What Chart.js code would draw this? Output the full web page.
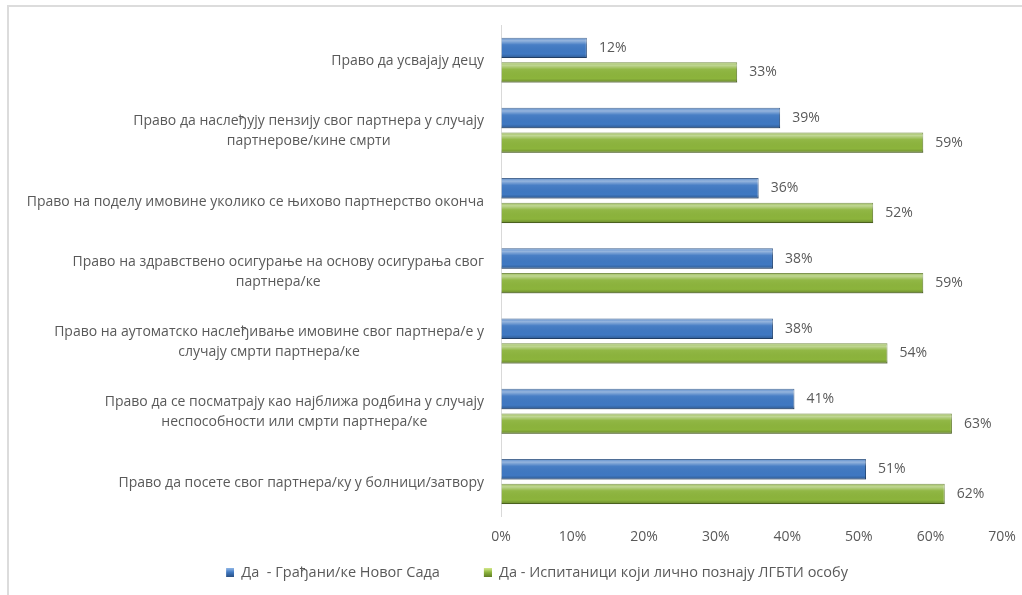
<!DOCTYPE html>
<html><head><meta charset="utf-8">
<script src="https://cdn.jsdelivr.net/npm/chart.js@4/dist/chart.umd.min.js"></script>
<style>
html,body{margin:0;padding:0;background:#fff;}
#wrap{position:absolute;left:0;top:0;width:1022px;height:595px;}
#frame{position:absolute;left:7px;top:5px;width:1030px;height:600px;border:2px solid #dcdcdc;box-sizing:border-box;}
</style></head><body>
<div id="frame"></div>
<div id="wrap"><canvas id="c" width="1022" height="595"></canvas></div>
<script>
const categories = [
  "Право да усвајају децу",
  ["Право да наслеђују пензију свог партнера у случају", "партнерове/кине смрти"],
  "Право на поделу имовине уколико се њихово партнерство оконча",
  ["Право на здравствено осигурање на основу осигурања свог", "партнера/ке"],
  ["Право на аутоматско наслеђивање имовине свог партнера/е у", "случају смрти партнера/ке"],
  ["Право да се посматрају као најближа родбина у случају", "неспособности или смрти партнера/ке"],
  "Право да посете свог партнера/ку у болници/затвору"
];
const seriesNames = ["Да  - Грађани/ке Новог Сада", "Да - Испитаници који лично познају ЛГБТИ особу"];
const citizens = [12, 39, 36, 38, 38, 41, 51];
const knowLGBTI = [33, 59, 52, 59, 54, 63, 62];
const xTicksMax = 70;

const FONT = "'Open Sans', 'Noto Sans', sans-serif";
const GREY = '#595959';
const COLORS = [{ fill: '#3f78c2', light: '#8fb6e6', edge: '#2a4f80' }, { fill: '#8cb43c', light: '#d4e98c', edge: '#5e7a26' }];

// legend marker: blank lead-in + small bevelled square on the right
function marker(c) {
  const cv = document.createElement('canvas');
  cv.width = 42; cv.height = 9;
  const x = cv.getContext('2d');
  const g = x.createLinearGradient(0, 0, 0, 9);
  g.addColorStop(0, c.light); g.addColorStop(0.45, c.fill); g.addColorStop(1, c.edge);
  x.fillStyle = g; x.fillRect(34, 0, 8, 9);
  return cv;
}

const deco = {
  id: 'deco',
  afterDatasetsDraw(chart) {
    const ctx = chart.ctx;
    chart.data.datasets.forEach((ds, di) => {
      const meta = chart.getDatasetMeta(di);
      meta.data.forEach((bar, i) => {
        const top = bar.y - bar.height / 2, h = bar.height;
        const left = bar.base, w = bar.x - bar.base;
        const g = ctx.createLinearGradient(0, top, 0, top + h);
        g.addColorStop(0, 'rgba(255,255,255,0.15)');
        g.addColorStop(0.15, 'rgba(255,255,255,0.45)');
        g.addColorStop(0.35, 'rgba(255,255,255,0.05)');
        g.addColorStop(0.8, 'rgba(0,0,0,0.0)');
        g.addColorStop(1, 'rgba(0,0,0,0.25)');
        ctx.save();
        ctx.fillStyle = g;
        ctx.fillRect(left, top, w, h);
        ctx.fillStyle = GREY;
        ctx.font = "14px " + FONT;
        ctx.textBaseline = 'middle';
        ctx.textAlign = 'left';
        ctx.fillText(ds.data[i] + '%', bar.x + 12, bar.y);
        ctx.restore();
      });
    });
  },
  afterDraw(chart) {
    // category labels: block right-aligned to the axis, lines centred within the block
    const ctx = chart.ctx, ys = chart.scales.y;
    ctx.save();
    ctx.font = "14px " + FONT;
    ctx.fillStyle = GREY;
    ctx.textBaseline = 'middle';
    ctx.textAlign = 'center';
    const right = ys.right - 17, lh = 20;
    chart.data.labels.forEach((lab, i) => {
      const lines = Array.isArray(lab) ? lab : [lab];
      const wmax = Math.max(...lines.map(l => ctx.measureText(l).width));
      const cx = right - wmax / 2;
      const cy = ys.getPixelForTick(i);
      lines.forEach((l, k) => {
        ctx.fillText(l, cx, cy + (k - (lines.length - 1) / 2) * lh + 1);
      });
    });
    ctx.restore();
  }
};

new Chart(document.getElementById('c'), {
  type: 'bar',
  data: {
    labels: categories,
    datasets: [
      { label: seriesNames[0], data: citizens, backgroundColor: COLORS[0].fill, borderColor: COLORS[0].edge, borderWidth: 1, borderSkipped: 'start',
        categoryPercentage: 0.7, barPercentage: 0.83 },
      { label: seriesNames[1], data: knowLGBTI, backgroundColor: COLORS[1].fill, borderColor: COLORS[1].edge, borderWidth: 1, borderSkipped: 'start',
        categoryPercentage: 0.7, barPercentage: 0.83 }
    ]
  },
  options: {
    indexAxis: 'y',
    responsive: false,
    animation: false,
    layout: { padding: { top: 25, right: 20, bottom: 5, left: 38 } },
    scales: {
      x: {
        min: 0, max: xTicksMax,
        ticks: { stepSize: 10, callback: v => v + '%', color: GREY, font: { size: 14, family: FONT }, padding: 6 },
        grid: { display: true, drawOnChartArea: false, drawTicks: true, tickLength: 6, color: 'rgba(0,0,0,0)' },
        border: { display: false },
        afterFit(s) { s.height += 4; }
      },
      y: {
        ticks: { display: false },
        grid: { display: false, drawTicks: false },
        border: { display: true, color: '#d9d9d9', width: 1 },
        afterFit(s) { s.width = 463; }
      }
    },
    plugins: {
      legend: {
        position: 'bottom',
        labels: { usePointStyle: true, pointStyleWidth: 42, boxHeight: 9, color: GREY, font: { size: 14.5, family: FONT }, padding: 10,
          generateLabels(chart) {
            return chart.data.datasets.map((d, i) => ({ text: d.label, pointStyle: marker(COLORS[i]), fillStyle: d.backgroundColor, strokeStyle: d.borderColor, lineWidth: 0, datasetIndex: i, fontColor: GREY }));
          }
        }
      },
      tooltip: { enabled: false }
    }
  },
  plugins: [deco]
});
</script>
</body></html>
